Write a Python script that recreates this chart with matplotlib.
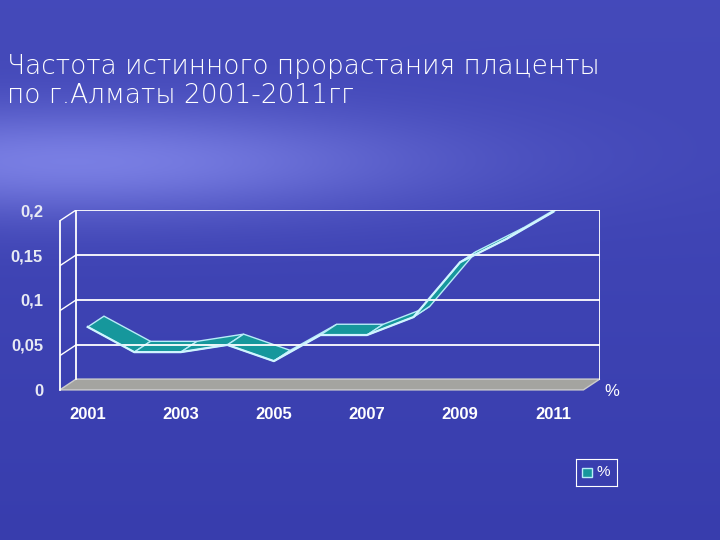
import numpy as np
import matplotlib.pyplot as plt
from matplotlib.patches import Polygon

years = [2001, 2002, 2003, 2004, 2005, 2006, 2007, 2008, 2009, 2010, 2011]
values = [0.07, 0.042, 0.042, 0.05, 0.032, 0.061, 0.061, 0.081, 0.142, 0.168, 0.198]
tick_years = [2001, 2003, 2005, 2007, 2009, 2011]
yticks = [0, 0.05, 0.1, 0.15, 0.2]
ytick_labels = ['0', '0,05', '0,1', '0,15', '0,2']

fig = plt.figure(figsize=(7.2, 5.4), dpi=100)

# background gradient (sea/sky look)
bg = fig.add_axes([0, 0, 1, 1])
h = np.linspace(0, 1, 300)[:, None]
w = np.linspace(0, 1, 300)[None, :]
glow = 0.22 * np.exp(-((h - 0.70) / 0.1) ** 2) * np.exp(-((w - 0.1) / 0.5) ** 2)
r = 0.22 + glow + 0.05 * h
g = 0.24 + glow + 0.05 * h
b = 0.68 + glow * 0.8 + 0.05 * h
img = np.clip(np.dstack([r, g, b]), 0, 1)
bg.imshow(img, aspect='auto', extent=[0, 1, 0, 1], origin='lower')
bg.axis('off')

fig.text(0.01, 0.81, 'Частота истинного прорастания плаценты\nпо г.Алматы 2001-2011гг',
         color='white', fontsize=19, family='DejaVu Sans', fontweight='light', linespacing=1.2)

ax = fig.add_axes([0.083, 0.278, 0.75, 0.333])
ax.set_facecolor('none')
x0, x1 = 2000.4, 2012.0
dx, dy = 0.35, 0.012  # depth offset
ax.set_xlim(x0, x1)
ax.set_ylim(0, 0.2)

# back wall frame & grid
for yv in yticks[1:]:
    ax.plot([x0 + dx, x1], [yv, yv], color='white', lw=1.3)
    ax.plot([x0, x0 + dx], [yv - dy, yv], color='white', lw=1.0)
ax.plot([x0 + dx, x0 + dx], [dy, 0.2], color='white', lw=1.3)
ax.plot([x0, x0], [0, 0.2 - dy], color='white', lw=1.3, clip_on=False)
ax.plot([x1, x1], [dy, 0.2], color='white', lw=1.3)
for s in ax.spines.values():
    s.set_visible(False)

# floor
ax.add_patch(Polygon([[x0, 0], [x1 - dx, 0], [x1, dy], [x0 + dx, dy]],
                     closed=True, facecolor='#a4a4a0', edgecolor='#cccccc', clip_on=False))

# ribbon line
x = np.array(years, float)
y = np.array(values)
for i in range(len(x) - 1):
    face = [[x[i], y[i]], [x[i + 1], y[i + 1]], [x[i + 1] + dx, y[i + 1] + dy], [x[i] + dx, y[i] + dy]]
    ax.add_patch(Polygon(face, closed=True, facecolor='#16979c', edgecolor='#b8ecf8', lw=1.0))
ax.plot(x, y, color='#d0f4ff', lw=1.6)

ax.set_xticks(tick_years)
ax.set_xticklabels([str(t) for t in tick_years], color='white', fontweight='bold', fontsize=12,
                   family='Liberation Sans')
ax.set_yticks(yticks)
ax.set_yticklabels(ytick_labels, color='#e8eaf4', fontweight='bold', fontsize=12,
                   family='Liberation Sans')
ax.tick_params(length=0, pad=12)
ax.text(x1 + 0.1, -0.002, '%', color='white', fontsize=12, family='Liberation Sans', va='center')

# legend box
lx = fig.add_axes([0.8, 0.1, 0.057, 0.05])
lx.set_xticks([]); lx.set_yticks([])
lx.set_facecolor('none')
for s in lx.spines.values():
    s.set_color('white')
lx.add_patch(plt.Rectangle((0.15, 0.35), 0.25, 0.3, facecolor='#16979c', edgecolor='#b8ecf8'))
lx.text(0.5, 0.5, '%', color='white', fontsize=11, va='center', family='Liberation Sans')

fig.savefig('out.png', dpi=100)
